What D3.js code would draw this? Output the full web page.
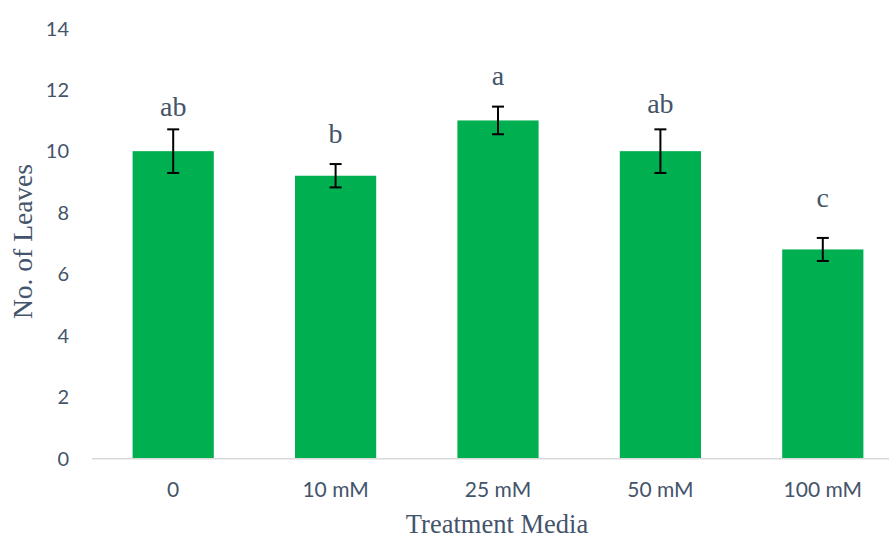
<!DOCTYPE html>
<html>
<head>
<meta charset="utf-8">
<script src="https://cdn.jsdelivr.net/npm/d3@7"></script>
<style>
  html, body { margin: 0; padding: 0; background: #fff; }
  svg { display: block; overflow: hidden; }
</style>
</head>
<body>
<svg id="chart" width="889" height="538"></svg>
<script>
// Treatment groups and mean leaf counts with standard errors
const categories = ["0", "10 mM", "25 mM", "50 mM", "100 mM"];
const leaves = [10.0, 9.2, 11.0, 10.0, 6.8];
const errors = [0.71, 0.38, 0.45, 0.71, 0.375];
const groups = ["ab", "b", "a", "ab", "c"];
const yTicks = [0, 2, 4, 6, 8, 10, 12, 14];

// Letter placement above each whisker, in pixels
const letterGap = [13, 21, 22, 16, 31];

const svg = d3.select("#chart");
const textColor = "#44546A";
const serif = "'Liberation Serif', 'Times New Roman', serif";
const sans = "Lato, 'Open Sans', sans-serif";

const x = d3.scaleBand()
  .domain(categories)
  .range([92, 904])
  .paddingInner(0.5)
  .paddingOuter(0.25);

const y = d3.scaleLinear()
  .domain([0, 14])
  .range([458.3, 28.3]);

// Y tick labels (no gridlines)
svg.append("g")
  .selectAll("text")
  .data(yTicks)
  .join("text")
  .attr("x", 69)
  .attr("y", d => y(d))
  .attr("dy", "0.36em")
  .attr("text-anchor", "end")
  .attr("font-family", sans)
  .attr("font-size", 20)
  .attr("fill", textColor)
  .text(d => d);

// Bars
const data = categories.map((c, i) => ({ c, v: leaves[i], e: errors[i], g: groups[i], gap: letterGap[i] }));

svg.append("g")
  .selectAll("rect")
  .data(data)
  .join("rect")
  .attr("x", d => x(d.c))
  .attr("y", d => y(d.v))
  .attr("width", x.bandwidth())
  .attr("height", d => y(0) - y(d.v))
  .attr("fill", "#00B050");

// Baseline axis
svg.append("line")
  .attr("x1", 92).attr("x2", 904)
  .attr("y1", y(0) + 0.5).attr("y2", y(0) + 0.5)
  .attr("stroke", "#D9D9D9")
  .attr("stroke-width", 1.5);

// Error bars
const eb = svg.append("g").attr("stroke", "#000").attr("stroke-width", 2);
data.forEach(d => {
  const cx = x(d.c) + x.bandwidth() / 2;
  eb.append("line").attr("x1", cx).attr("x2", cx).attr("y1", y(d.v + d.e)).attr("y2", y(d.v - d.e));
  eb.append("line").attr("x1", cx - 6).attr("x2", cx + 6).attr("y1", y(d.v + d.e)).attr("y2", y(d.v + d.e));
  eb.append("line").attr("x1", cx - 6).attr("x2", cx + 6).attr("y1", y(d.v - d.e)).attr("y2", y(d.v - d.e));
});

// Significance letters
svg.append("g")
  .selectAll("text")
  .data(data)
  .join("text")
  .attr("x", d => x(d.c) + x.bandwidth() / 2)
  .attr("y", d => y(d.v + d.e) - d.gap)
  .attr("text-anchor", "middle")
  .attr("font-family", serif)
  .attr("font-size", 28)
  .attr("fill", textColor)
  .text(d => d.g);

// X category labels
svg.append("g")
  .selectAll("text")
  .data(categories)
  .join("text")
  .attr("x", d => x(d) + x.bandwidth() / 2)
  .attr("y", 497)
  .attr("text-anchor", "middle")
  .attr("font-family", sans)
  .attr("font-size", 21)
  .attr("fill", textColor)
  .text(d => d);

// Axis titles
svg.append("text")
  .attr("x", 497)
  .attr("y", 533)
  .attr("text-anchor", "middle")
  .attr("font-family", serif)
  .attr("font-size", 26.5)
  .attr("fill", textColor)
  .text("Treatment Media");

svg.append("text")
  .attr("transform", "translate(31.7,241.5) rotate(-90)")
  .attr("text-anchor", "middle")
  .attr("font-family", serif)
  .attr("font-size", 27.5)
  .attr("fill", textColor)
  .text("No. of Leaves");
</script>
</body>
</html>
